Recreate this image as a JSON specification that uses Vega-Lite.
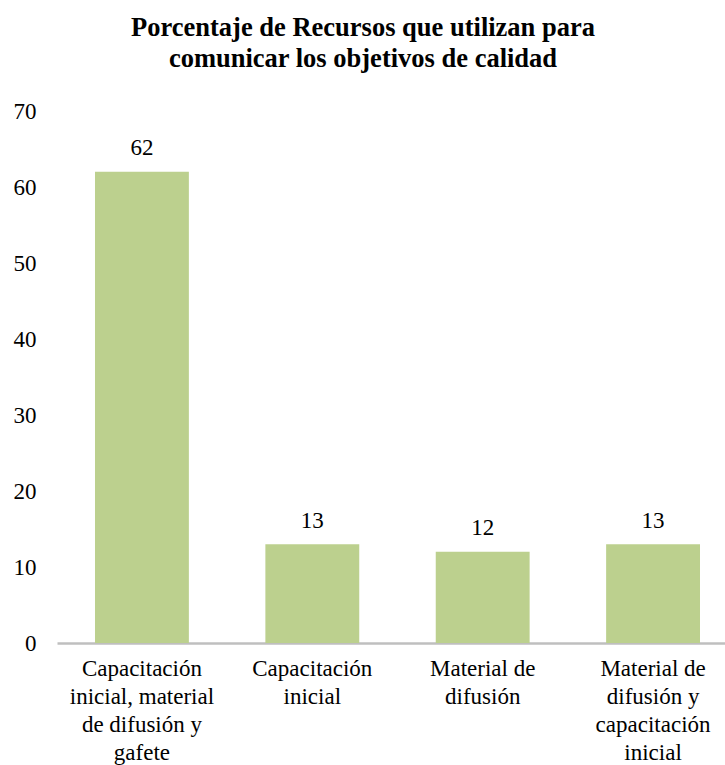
{
  "$schema": "https://vega.github.io/schema/vega-lite/v6.json",
  "width": 668,
  "height": 532,
  "autosize": {"type": "none"},
  "padding": {"left": 57, "top": 111, "right": 0, "bottom": 122},
  "background": "white",
  "title": {
    "text": ["Porcentaje de Recursos que utilizan para", "comunicar los objetivos de calidad"],
    "font": "Liberation Serif",
    "fontSize": 26.5,
    "fontWeight": "bold",
    "color": "black",
    "anchor": "middle",
    "frame": "group",
    "dx": -28,
    "offset": 28,
    "lineHeight": 31
  },
  "data": {
    "values": [
      {"recurso": "Capacitación inicial, material de difusión y gafete", "porcentaje": 62},
      {"recurso": "Capacitación inicial", "porcentaje": 13},
      {"recurso": "Material de difusión", "porcentaje": 12},
      {"recurso": "Material de difusión y capacitación inicial", "porcentaje": 13}
    ]
  },
  "encoding": {
    "x": {
      "field": "recurso",
      "type": "nominal",
      "sort": null,
      "scale": {"range": [0, 681], "paddingInner": 0.449, "paddingOuter": 0.223},
      "axis": {
        "title": null,
        "labelAngle": 0,
        "domain": true,
        "domainColor": "#BFBFBF",
        "domainWidth": 2.5,
        "ticks": false,
        "labelFont": "Liberation Serif",
        "labelFontSize": 23,
        "labelColor": "black",
        "labelBaseline": "top",
        "labelPadding": 14,
        "labelLineHeight": 28,
        "labelLimit": 300,
        "labelExpr": "datum.label == 'Capacitación inicial, material de difusión y gafete' ? ['Capacitación', 'inicial, material', 'de difusión y', 'gafete'] : datum.label == 'Capacitación inicial' ? ['Capacitación', 'inicial'] : datum.label == 'Material de difusión' ? ['Material de', 'difusión'] : ['Material de', 'difusión y', 'capacitación', 'inicial']"
      }
    },
    "y": {
      "field": "porcentaje",
      "type": "quantitative",
      "scale": {"domain": [0, 70], "nice": false},
      "axis": {
        "title": null,
        "values": [0, 10, 20, 30, 40, 50, 60, 70],
        "domain": false,
        "ticks": false,
        "grid": false,
        "labelFont": "Liberation Serif",
        "labelFontSize": 23,
        "labelColor": "black",
        "labelPadding": 21
      }
    }
  },
  "layer": [
    {"mark": {"type": "bar", "color": "#BCD08E"}},
    {
      "mark": {"type": "text", "font": "Liberation Serif", "fontSize": 23, "color": "black", "align": "center", "baseline": "alphabetic", "dy": -16.5},
      "encoding": {"text": {"field": "porcentaje", "type": "quantitative"}}
    }
  ],
  "config": {"view": {"stroke": null}}
}
